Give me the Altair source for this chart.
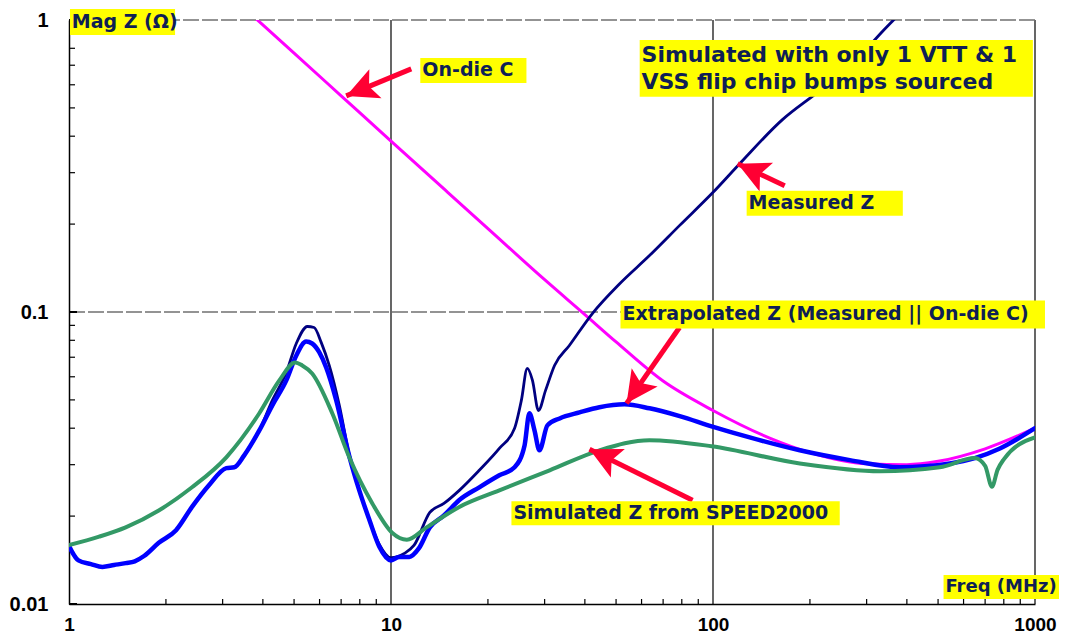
import altair as alt
import pandas as pd

# ---------------- data ----------------
meas_f = [1.0, 1.07, 1.17, 1.27, 1.38, 1.50, 1.60, 1.71, 1.90, 2.15, 2.41, 2.72, 3.08, 3.26, 3.50, 3.90,
          4.28, 4.73, 5.08, 5.50, 5.77, 6.07, 6.43, 6.91, 7.42, 7.97, 8.57, 9.20, 10.0, 11.0, 11.8,
          13.2, 14.6, 16.3, 18.8, 21.7, 24.2, 25.4, 26.5, 27.5, 28.7, 30.2, 32.2, 35.8, 42.2, 51.3,
          63.5, 78.8, 99.7, 121, 164, 214, 286, 337, 380]
meas_z = [0.0158, 0.0141, 0.0137, 0.0134, 0.0136, 0.0138, 0.0140, 0.0146, 0.0162, 0.0179, 0.0215, 0.0255,
          0.0292, 0.0294, 0.0323, 0.0393, 0.0498, 0.0621, 0.0780, 0.0892, 0.0885, 0.0787, 0.0656, 0.0479,
          0.0324, 0.0245, 0.0194, 0.0160, 0.0144, 0.0149, 0.0159, 0.0206, 0.0221, 0.0245, 0.0287, 0.0341,
          0.0400, 0.0498, 0.0641, 0.0583, 0.0460, 0.0539, 0.0656, 0.0768, 0.0988, 0.125, 0.156, 0.198,
          0.256, 0.322, 0.455, 0.572, 0.753, 0.917, 1.05]

extr_f = [1.0, 1.07, 1.17, 1.27, 1.38, 1.50, 1.60, 1.71, 1.90, 2.15, 2.41, 2.72, 3.08, 3.26, 3.50, 3.90,
          4.28, 4.73, 5.08, 5.45, 5.69, 5.99, 6.29, 6.76, 7.42, 7.97, 8.57, 9.20, 10.0, 10.6, 11.4, 12.2,
          13.2, 14.6, 16.3, 18.8, 21.7, 24.2, 26.0, 26.9, 27.9, 28.9, 30.6, 33.4, 38.5, 44.4, 53.1, 63.5,
          78.8, 99, 130, 186, 266, 380, 544, 650, 778, 1000]
extr_z = [0.0158, 0.0141, 0.0137, 0.0134, 0.0136, 0.0138, 0.0140, 0.0146, 0.0162, 0.0179, 0.0215, 0.0255,
          0.0292, 0.0294, 0.0323, 0.0393, 0.0479, 0.0583, 0.0710, 0.0792, 0.0780, 0.0727, 0.0646, 0.0498,
          0.0321, 0.0245, 0.0194, 0.0157, 0.0141, 0.0145, 0.0145, 0.0155, 0.0183, 0.0201, 0.0227, 0.0251,
          0.0276, 0.0294, 0.0350, 0.0450, 0.0393, 0.0336, 0.0409, 0.0432, 0.0453, 0.0472, 0.0483, 0.0468,
          0.0440, 0.0406, 0.0372, 0.0336, 0.0311, 0.0294, 0.0303, 0.0316, 0.0341, 0.0400]

sim_f = [1.0, 1.24, 1.50, 1.90, 2.41, 3.08, 3.90, 4.50, 5.04, 5.30, 5.69, 6.57, 7.42, 8.75, 10.1, 11.2,
         12.9, 16.3, 21.7, 31.1, 44.4, 63.5, 99, 186, 330, 506, 650, 700, 735, 765, 800, 1000]
sim_z = [0.0159, 0.0170, 0.0183, 0.0209, 0.0251, 0.0318, 0.0450, 0.0583, 0.0672, 0.0656, 0.0616, 0.0450,
         0.0318, 0.0221, 0.0175, 0.0166, 0.0183, 0.0215, 0.0245, 0.0287, 0.0336, 0.0364, 0.0347, 0.0303,
         0.0285, 0.0294, 0.0316, 0.0297, 0.0252, 0.0288, 0.0313, 0.0372]

cap_f = [3.7, 5, 7, 10, 15, 20, 30, 40, 50, 70, 100, 150, 200, 300, 400, 500, 700, 1000]
cap_z = [1.04, 0.77, 0.55, 0.385, 0.257, 0.193, 0.129, 0.098, 0.079, 0.058, 0.046, 0.037, 0.033,
         0.0302, 0.0300, 0.0308, 0.034, 0.040]

x_tick_labels = [1, 10, 100, 1000]
y_tick_labels = [0.01, 0.1, 1]
x_minor = [2, 3, 4, 5, 6, 7, 8, 9, 20, 30, 40, 50, 60, 70, 80, 90, 200, 300, 400, 500, 600, 700, 800, 900]
y_minor = [0.02, 0.03, 0.04, 0.05, 0.06, 0.07, 0.08, 0.09, 0.2, 0.3, 0.4, 0.5, 0.6, 0.7, 0.8, 0.9]

# annotation labels (data coordinates)
note_text = ["Mag Z (Ω)", "Simulated with only 1 VTT & 1", "VSS flip chip bumps sourced", "On-die C",
             "Measured Z", "Extrapolated Z (Measured || On-die C)", "Simulated Z from SPEED2000", "Freq (MHz)"]
note_x = [1.02, 60.0, 60.0, 12.51, 129.0, 52.4, 24.0, 527]
note_y = [0.984, 0.759, 0.6113, 0.672, 0.2359, 0.0981, 0.02047, 0.01143]
note_fs = [19, 22, 22, 19, 19, 19, 19, 18]

box_x1 = [1.007, 59.2, 12.33, 127.2, 51.6, 23.66, 520]
box_x2 = [2.135, 985, 26.34, 388.6, 1074, 247.5, 1200]
box_y1 = [1.09, 0.854, 0.7414, 0.2602, 0.1095, 0.02249, 0.01256]
box_y2 = [0.889, 0.5455, 0.609, 0.2138, 0.0878, 0.01862, 0.0104]

arrow_tail_f = [11.56, 167.0, 78.7, 86.4]
arrow_tail_z = [0.680, 0.2707, 0.0885, 0.02267]
arrow_tip_f = [7.26, 119.3, 53.9, 41.35]
arrow_tip_z = [0.5497, 0.3219, 0.04866, 0.03388]
arrow_angle = [247.4, 295.1, 214.9, 296.3]

# ---------------- chart ----------------
W, H = 966, 584
xs = alt.Scale(type="log", domain=[1, 1000], nice=False)
ys = alt.Scale(type="log", domain=[0.01, 1], nice=False)
LABEL_FONT = "Liberation Sans"
X_AX = alt.Axis(values=x_tick_labels, format="~g", title="", grid=False, ticks=False, tickSize=0,
                labelFont=LABEL_FONT, labelFontSize=19, labelFontWeight="bold", labelColor="black",
                labelPadding=11, labelFlush=False, labelOverlap=False, labelBound=False,
                domainColor="black", domainWidth=1.5)
Y_AX = alt.Axis(values=y_tick_labels, format="~g", title="", grid=False, ticks=False, tickSize=0,
                labelFont=LABEL_FONT, labelFontSize=20, labelFontWeight="bold", labelColor="black",
                labelPadding=21, labelFlush=False, labelOverlap=False, labelBound=False,
                domainColor="black", domainWidth=1.5)


def X(field):
    return alt.X(field, type="quantitative", scale=xs, axis=X_AX)


def Y(field):
    return alt.Y(field, type="quantitative", scale=ys, axis=Y_AX)


# grid lines
vgrid = pd.DataFrame({"v": [10, 100, 1000]})
hgrid = pd.DataFrame({"v": [0.1, 1]})
vgrid_layer = alt.Chart(vgrid).mark_rule(color="black", strokeWidth=1.2).encode(x=X("v"))
hgrid_layer = alt.Chart(hgrid).mark_rule(color="#707070", strokeWidth=1.5, strokeDash=[16, 3]).encode(y=Y("v"))

xt_layer = alt.Chart(pd.DataFrame({"v": x_minor})).mark_rule(color="black", strokeWidth=1.2).encode(
    x=X("v"), y=alt.value(H), y2=alt.value(H - 5))
yt_layer = alt.Chart(pd.DataFrame({"v": y_minor})).mark_rule(color="black", strokeWidth=1.2).encode(
    y=Y("v"), x=alt.value(0), x2=alt.value(6))
ymaj_layer = alt.Chart(pd.DataFrame({"v": y_tick_labels})).mark_rule(color="black", strokeWidth=2).encode(
    y=Y("v"), x=alt.value(0), x2=alt.value(8))


def line_layer(fs, zs, color, width):
    df = pd.DataFrame({"f": fs, "z": zs, "i": list(range(len(fs)))})
    return alt.Chart(df).mark_line(color=color, strokeWidth=width, clip=True, interpolate="monotone",
                                   strokeJoin="round", strokeCap="round").encode(
        x=X("f"), y=Y("z"), order=alt.Order("i:Q"))


cap_layer = line_layer(cap_f, cap_z, "#ff00ff", 3)
meas_layer = line_layer(meas_f, meas_z, "#000080", 2.8)
extr_layer = line_layer(extr_f, extr_z, "#0000ff", 4.5)
sim_layer = line_layer(sim_f, sim_z, "#339966", 4)

# annotation boxes & text
boxes = pd.DataFrame({"x1": box_x1, "x2": box_x2, "y1": box_y1, "y2": box_y2})
box_layer = alt.Chart(boxes).mark_rect(color="#ffff00").encode(
    x=X("x1"), x2="x2", y=Y("y1"), y2="y2")

notes = pd.DataFrame({"t": note_text, "x": note_x, "y": note_y, "fs": note_fs})
text_layer = alt.Chart(notes).mark_text(
    align="left", baseline="middle", font="DejaVu Sans", fontWeight="bold", color="#0f1f55").encode(
    x=X("x"), y=Y("y"), text="t:N", size=alt.Size("fs:Q", scale=None))

# arrows
shaft_rows = []
for k in range(len(arrow_tail_f)):
    shaft_rows.append({"a": k, "f": arrow_tail_f[k], "z": arrow_tail_z[k], "i": 0})
    shaft_rows.append({"a": k, "f": arrow_tip_f[k], "z": arrow_tip_z[k], "i": 1})
shafts = pd.DataFrame(shaft_rows)
shaft_layer = alt.Chart(shafts).mark_line(color="#ff0033", strokeWidth=5).encode(
    x=X("f"), y=Y("z"), detail="a:N", order=alt.Order("i:Q"))

heads = pd.DataFrame({"f": arrow_tip_f, "z": arrow_tip_z, "ang": arrow_angle})
head_layer = alt.Chart(heads).mark_point(
    shape="M0,0 L0.5,1 L0,0.78 L-0.5,1 Z", filled=True, size=4000, color="#ff0033",
    opacity=1, strokeWidth=0).encode(
    x=X("f"), y=Y("z"), angle=alt.Angle("ang:Q", scale=None))

chart = alt.layer(
    vgrid_layer, hgrid_layer, xt_layer, yt_layer, ymaj_layer,
    cap_layer, meas_layer, extr_layer, sim_layer,
    shaft_layer, head_layer, box_layer, text_layer,
).properties(
    width=W, height=H,
    autosize=alt.AutoSizeParams(type="none"),
    padding={"left": 61, "top": 12, "right": 24, "bottom": 31},
).configure_view(stroke="transparent")

chart.save("out.html", embed_options={"renderer": "svg", "actions": False})
